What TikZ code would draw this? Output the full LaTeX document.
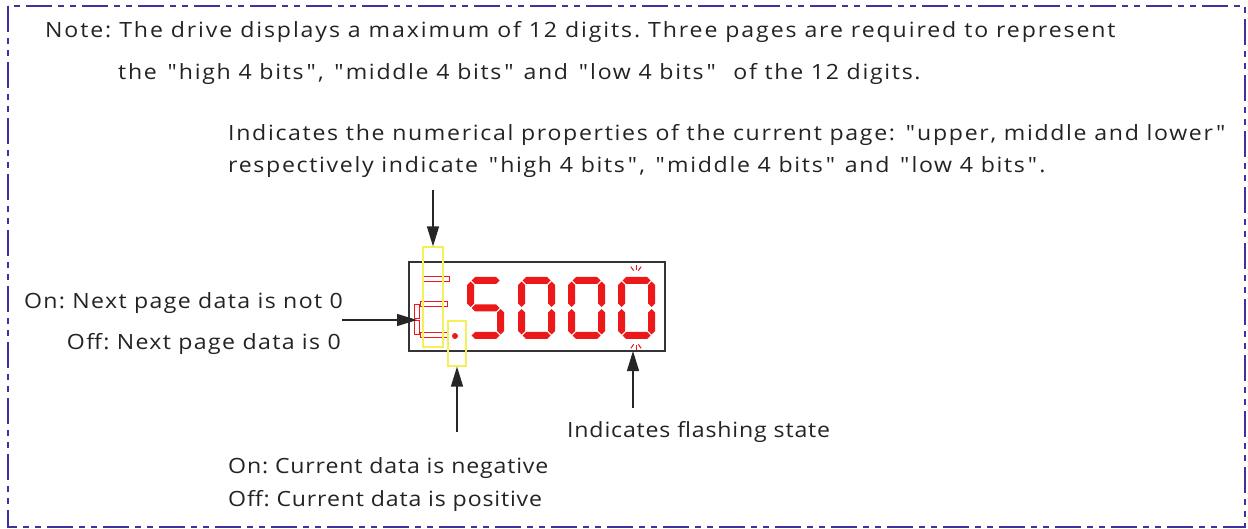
\documentclass[tikz,border=0pt]{standalone}
\usepackage{fontspec}
\setmainfont{Open Sans}[FakeStretch=1.1, LetterSpace=8]
\usetikzlibrary{arrows.meta}
\frenchspacing

\definecolor{framecol}{RGB}{60,50,160}
\definecolor{txtcol}{RGB}{35,35,35}
\definecolor{segred}{RGB}{235,25,25}
\definecolor{hintyel}{RGB}{245,240,90}

\tikzset{
  note/.style={text=txtcol, font=\fontsize{21}{25}\selectfont, inner sep=0pt},
  tightnote/.style={note, font=\fontsize{21}{25}\selectfont\addfontfeatures{LetterSpace=#1}},
  seg/.style={fill=segred},
  dimseg/.style={draw=segred, line width=0.9pt},
  hintbox/.style={draw=hintyel, line width=1.2pt, inner sep=0pt},
  pointer/.style={line width=1.4pt, draw=black!85, -{Triangle[length=20pt,width=12pt]}},
}

% horizontal segment: x1, x2, y
\newcommand{\hseg}[3]{\fill[seg] (#1,#3) -- ({#1+3.5},{#3-3.5}) -- ({#2-3.5},{#3-3.5}) -- (#2,#3) -- ({#2-3.5},{#3+3.5}) -- ({#1+3.5},{#3+3.5}) -- cycle;}
% vertical segment: x, y1, y2
\newcommand{\vseg}[3]{\fill[seg] (#1,#2) -- ({#1+3.5},{#2+3.5}) -- ({#1+3.5},{#3-3.5}) -- (#1,#3) -- ({#1-3.5},{#3-3.5}) -- ({#1-3.5},{#2+3.5}) -- cycle;}
\newcommand{\qq}{\kern3pt\textquotedbl\kern3pt}

\begin{document}
\begin{tikzpicture}[x=1pt, y=-1pt, >=latex]
        % ==== DEFINITIONS ====
        \def\digW{37} % digit width
        \def\digH{62} % digit height
        \def\digY{277} % top of the digits

        \useasboundingbox (0,0) rectangle (1248,529);

        % ==== FRAME ====
        \draw[framecol, line width=2pt, dash pattern=on 26pt off 6pt on 6pt off 6pt on 6pt off 6pt]
            (8,6) rectangle (1245,527);

        % ==== NOTE TEXT ====
        \node[tightnote=9, anchor=base west] (noteA) at (45,38) {Note: The drive displays a maximum of 12 digits. Three pages are required to represent};
        \node[note, anchor=base west] (noteB) at (118,80) {the \qq high 4 bits\qq, \qq middle 4 bits\qq\ and \qq low 4 bits\qq\ \ of the 12 digits.};

        % ==== PAGE TEXT ====
        \node[note, anchor=base west] (pageA) at (228,141) {Indicates the numerical properties of the current page: \qq upper, middle and lower\qq};
        \node[note, anchor=base west] (pageB) at (228,173) {respectively indicate \qq high 4 bits\qq, \qq middle 4 bits\qq\ and \qq low 4 bits\qq.};

        % ==== DISPLAY ====
        \draw[black!80, line width=1.8pt] (409,262) rectangle (665,351);

        % ==== PAGE DIGIT (upper, middle, lower) ====
        \draw[dimseg] (422,276) rectangle (449,281);
        \draw[dimseg] (420,301) rectangle (447,306);
        \draw[dimseg] (420,332) rectangle (447,337);
        \draw[dimseg] (414,304) rectangle (419,318);
        \draw[dimseg] (414,320) rectangle (419,334);

        % ==== SIGN DOT ====
        \fill[segred] (455,336) circle(3);

        % ==== DIGIT 5 ====
        \foreach \x in {467} {
            \pgfmathsetmacro\L{\x+3.5} \pgfmathsetmacro\R{\x+\digW-3.5}
            \pgfmathsetmacro\T{\digY+3.5} \pgfmathsetmacro\M{\digY+\digH/2} \pgfmathsetmacro\B{\digY+\digH-3.5}
            \hseg{\L+1}{\R-1}{\T}
            \vseg{\L}{\T+1}{\M-1}
            \hseg{\L+1}{\R-1}{\M}
            \vseg{\R}{\M+1}{\B-1}
            \hseg{\L+1}{\R-1}{\B}
        }

        % ==== DIGITS 0 0 0 ====
        \foreach \x in {518,568,618} {
            \pgfmathsetmacro\L{\x+3.5} \pgfmathsetmacro\R{\x+\digW-3.5}
            \pgfmathsetmacro\T{\digY+3.5} \pgfmathsetmacro\M{\digY+\digH/2} \pgfmathsetmacro\B{\digY+\digH-3.5}
            \hseg{\L+1}{\R-1}{\T}
            \vseg{\L}{\T+1}{\M-1}
            \vseg{\R}{\T+1}{\M-1}
            \vseg{\L}{\M+1}{\B-1}
            \vseg{\R}{\M+1}{\B-1}
            \hseg{\L+1}{\R-1}{\B}
        }

        % ==== FLASH MARKS ====
        \foreach \a in {55,90,125} {
            \draw[segred, line width=1pt] (636,274) ++({-\a}:4) -- ++({-\a}:5);
            \draw[segred, line width=1pt] (636,341) ++(\a:4) -- ++(\a:5);
        }

        % ==== YELLOW MARKERS ====
        \node[hintbox, minimum width=20pt, minimum height=100pt] (pagebox) at (433,297) {};
        \node[hintbox, minimum width=18pt, minimum height=45pt] (signbox) at (457,343.5) {};

        % ==== SIDE TEXT ====
        \node[tightnote=6.5, anchor=base east] (nextA) at (343,309) {On: Next page data is not 0};
        \node[tightnote=6.5, anchor=base east] (nextB) at (341,350) {Off: Next page data is 0};
        \node[tightnote=4, anchor=base west] (flash) at (567,437) {Indicates flashing state};
        \node[tightnote=4, anchor=base west] (signA) at (228,473) {On: Current data is negative};
        \node[tightnote=4, anchor=base west] (signB) at (228,506) {Off: Current data is positive};

        % ==== POINTERS ====
        \coordinate (pagefrom) at (433,190);
        \coordinate (nextfrom) at (342,320);
        \coordinate (nextto) at (417,320);
        \coordinate (signfrom) at (457,432);
        \coordinate (flashfrom) at (633,408);
        \coordinate (flashto) at (633,351);
        \draw[pointer] (pagefrom) -- (pagebox.north);
        \draw[pointer] (nextfrom) -- (nextto);
        \draw[pointer] (signfrom) -- (signbox.south);
        \draw[pointer] (flashfrom) -- (flashto);
    \end{tikzpicture}
\end{document}
